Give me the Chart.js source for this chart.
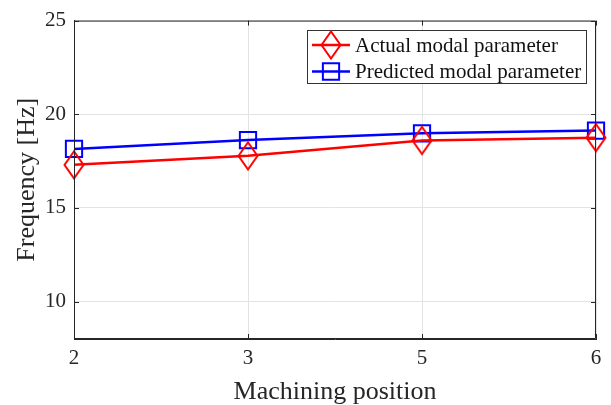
<!DOCTYPE html>
<html>
<head>
<meta charset="utf-8">
<script src="https://cdn.jsdelivr.net/npm/chart.js@4/dist/chart.umd.min.js"></script>
<style>
  html, body { margin: 0; padding: 0; background: #fff; }
  #wrap { width: 611px; height: 405px; }
</style>
</head>
<body>
<div id="wrap"><canvas id="c" width="611" height="405"></canvas></div>
<script>
const categories = ['2', '3', '5', '6'];
const actualValues = [17.3, 17.78, 18.6, 18.75];
const predictedValues = [18.15, 18.62, 18.98, 19.13];
const seriesLabels = ['Actual modal parameter', 'Predicted modal parameter'];
const yTicks = [10, 15, 20, 25];
const xTitle = 'Machining position';
const yTitle = 'Frequency [Hz]';

const FONT = '"Liberation Serif", "Times New Roman", serif';
const AXIS_COLOR = '#262626';

// Diamond marker (MATLAB-style, taller than wide)
const DHW = 9.5, DHH = 13.5;
function diamondPath(ctx, x, y) {
  ctx.moveTo(x - DHW, y); ctx.lineTo(x, y - DHH);
  ctx.lineTo(x + DHW, y); ctx.lineTo(x, y + DHH);
  ctx.closePath();
}
const diamondImg = document.createElement('canvas');
diamondImg.width = 24; diamondImg.height = 32;
(function () {
  const g = diamondImg.getContext('2d');
  g.strokeStyle = '#ff0000';
  g.lineWidth = 2;
  g.beginPath();
  diamondPath(g, 12, 16);
  g.stroke();
})();

const frameTicks = {
  id: 'frameTicks',
  afterDraw(chart) {
    const {ctx, chartArea: a, scales} = chart;
    ctx.save();
    ctx.strokeStyle = AXIS_COLOR;
    ctx.lineWidth = 1;
    ctx.beginPath();
    ctx.rect(a.left + 0.5, a.top + 0.5, a.right - a.left - 1, a.bottom - a.top - 1);
    ctx.stroke();
    const L = 5;
    ctx.beginPath();
    scales.y.ticks.forEach(t => {
      const y = Math.round(scales.y.getPixelForValue(t.value)) + 0.5;
      ctx.moveTo(a.left, y); ctx.lineTo(a.left + L, y);
      ctx.moveTo(a.right, y); ctx.lineTo(a.right - L, y);
    });
    scales.x.ticks.forEach((t, i) => {
      const x = Math.round(scales.x.getPixelForTick(i)) + 0.5;
      ctx.moveTo(x, a.bottom); ctx.lineTo(x, a.bottom - L);
      ctx.moveTo(x, a.top); ctx.lineTo(x, a.top + L);
    });
    ctx.stroke();

    // legend
    const bx = 307, by = 30, bw = 279, bh = 53;
    ctx.fillStyle = '#fff';
    ctx.fillRect(bx, by, bw, bh);
    ctx.strokeStyle = '#333';
    ctx.lineWidth = 1;
    ctx.strokeRect(bx + 0.5, by + 0.5, bw, bh);
    chart.data.datasets.forEach((ds, i) => {
      const yc = by + 15 + i * 26.5;
      ctx.strokeStyle = ds.borderColor;
      ctx.lineWidth = ds.borderWidth;
      ctx.beginPath();
      ctx.moveTo(312, yc); ctx.lineTo(350, yc);
      ctx.stroke();
      ctx.lineWidth = ds.pointBorderWidth;
      ctx.beginPath();
      const xc = 331;
      if (ds.pointStyle === diamondImg) {
        diamondPath(ctx, xc, yc);
      } else {
        const s = ds.pointRadius * Math.SQRT1_2;
        ctx.rect(xc - s, yc - s, 2 * s, 2 * s);
      }
      ctx.stroke();
      ctx.fillStyle = '#111';
      ctx.font = '21px ' + FONT;
      ctx.textBaseline = 'middle';
      ctx.textAlign = 'left';
      ctx.fillText(ds.label, 355, yc + 1);
    });
    ctx.restore();
  }
};

new Chart(document.getElementById('c'), {
  type: 'line',
  data: {
    labels: categories,
    datasets: [
      {
        label: seriesLabels[0],
        data: actualValues,
        borderColor: '#ff0000',
        backgroundColor: 'transparent',
        borderWidth: 2.5,
        pointStyle: diamondImg,
        pointRadius: 13,
        pointBorderWidth: 2,
        pointBackgroundColor: 'transparent',
        pointBorderColor: '#ff0000',
        tension: 0
      },
      {
        label: seriesLabels[1],
        data: predictedValues,
        borderColor: '#0000ff',
        backgroundColor: 'transparent',
        borderWidth: 2.5,
        pointStyle: 'rect',
        pointRadius: 11.5,
        pointBorderWidth: 2,
        pointBackgroundColor: 'transparent',
        pointBorderColor: '#0000ff',
        tension: 0
      }
    ]
  },
  options: {
    responsive: false,
    animation: false,
    devicePixelRatio: 1,
    layout: { padding: { top: 20, right: 13, left: 0, bottom: 0 } },
    plugins: { legend: { display: false }, tooltip: { enabled: false } },
    scales: {
      x: {
        type: 'category',
        offset: false,
        afterFit(s) { s.height = 66; },
        grid: { color: '#e3e3e3', drawTicks: false, lineWidth: 1 },
        border: { display: true, color: AXIS_COLOR },
        ticks: { color: '#262626', padding: 7, font: { family: FONT, size: 21 } },
        title: { display: true, text: xTitle, color: '#262626', padding: { top: 0, bottom: 0 }, font: { family: FONT, size: 26, lineHeight: 1 } }
      },
      y: {
        min: 8,
        max: 25,
        afterFit(s) { s.width = 74; },
        afterBuildTicks(s) { s.ticks = yTicks.map(v => ({ value: v })); },
        grid: { color: '#e3e3e3', drawTicks: false, lineWidth: 1 },
        border: { display: true, color: AXIS_COLOR },
        ticks: { color: '#262626', padding: 8, font: { family: FONT, size: 21 } },
        title: { display: true, text: yTitle, color: '#262626', padding: { top: 14, bottom: 0 }, font: { family: FONT, size: 26, lineHeight: 1 } }
      }
    }
  },
  plugins: [frameTicks]
});
</script>
</body>
</html>
